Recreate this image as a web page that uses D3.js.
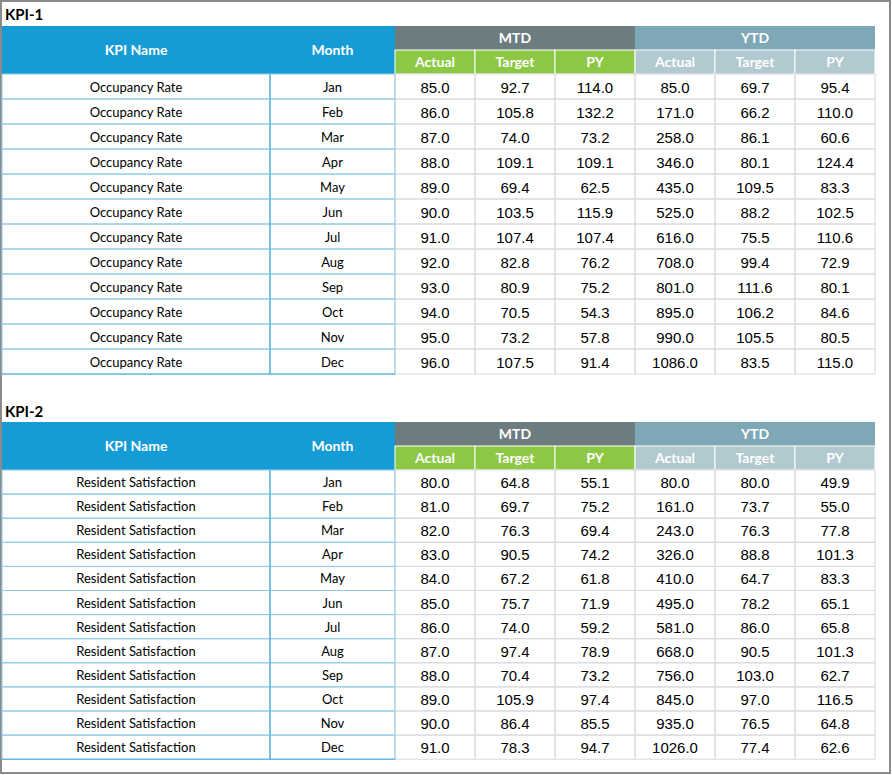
<!DOCTYPE html>
<html><head><meta charset="utf-8">
<script src="https://cdn.jsdelivr.net/npm/d3@7"></script>
<style>body{margin:0;background:#fff}</style>
</head><body>
<script>
const months = ["Jan","Feb","Mar","Apr","May","Jun","Jul","Aug","Sep","Oct","Nov","Dec"];
const kpi1Name = "Occupancy Rate";
const kpi1MtdActual = [85,86,87,88,89,90,91,92,93,94,95,96];
const kpi1MtdTarget = [92.7,105.8,74.0,109.1,69.4,103.5,107.4,82.8,80.9,70.5,73.2,107.5];
const kpi1MtdPY = [114.0,132.2,73.2,109.1,62.5,115.9,107.4,76.2,75.2,54.3,57.8,91.4];
const kpi1YtdActual = [85,171,258,346,435,525,616,708,801,895,990,1086];
const kpi1YtdTarget = [69.7,66.2,86.1,80.1,109.5,88.2,75.5,99.4,111.6,106.2,105.5,83.5];
const kpi1YtdPY = [95.4,110.0,60.6,124.4,83.3,102.5,110.6,72.9,80.1,84.6,80.5,115.0];
const kpi2Name = "Resident Satisfaction";
const kpi2MtdActual = [80,81,82,83,84,85,86,87,88,89,90,91];
const kpi2MtdTarget = [64.8,69.7,76.3,90.5,67.2,75.7,74.0,97.4,70.4,105.9,86.4,78.3];
const kpi2MtdPY = [55.1,75.2,69.4,74.2,61.8,71.9,59.2,78.9,73.2,97.4,85.5,94.7];
const kpi2YtdActual = [80,161,243,326,410,495,581,668,756,845,935,1026];
const kpi2YtdTarget = [80.0,73.7,76.3,88.8,64.7,78.2,86.0,90.5,103.0,97.0,76.5,77.4];
const kpi2YtdPY = [49.9,55.0,77.8,101.3,83.3,65.1,65.8,101.3,62.7,116.5,64.8,62.6];
const subHeaders = ["Actual","Target","PY"];

const svg = d3.select("body").append("svg").attr("width", 892).attr("height", 775);
svg.append("rect").attr("x",1).attr("y",1).attr("width",889).attr("height",772)
  .attr("fill","#fff").attr("stroke","#8a8a8a").attr("stroke-width",2);

// column edges
const colX = [2,270,395,475,555,635,715,795,875];
const numFont = "Liberation Sans, Arial, sans-serif";
const txtFont = "Lato, Noto Sans, sans-serif";

function drawTable(title, titleY, top, rowH, name, cols) {
  svg.append("text").attr("x",5).attr("y",titleY).attr("font-family",txtFont)
    .attr("font-weight","bold").attr("font-size",15).attr("fill","#000").text(title);
  const h1 = 24, h2 = 24;
  // KPI Name / Month header
  svg.append("rect").attr("x",colX[0]).attr("y",top).attr("width",colX[2]-colX[0])
    .attr("height",h1+h2).attr("fill","#159bd5");
  [["KPI Name",(colX[0]+colX[1])/2],["Month",(colX[1]+colX[2])/2]].forEach(([t,x]) => {
    svg.append("text").attr("x",x).attr("y",top+h1+5).attr("text-anchor","middle")
      .attr("font-family",txtFont).attr("font-weight","bold").attr("font-size",14)
      .attr("fill","#fff").text(t);
  });
  // group headers
  [["MTD",colX[2],colX[5],"#6c7c7f","#8cc843"],["YTD",colX[5],colX[8],"#7ea8b5","#b2c9d0"]]
    .forEach(([t,x0,x1,c1,c2],g) => {
      svg.append("rect").attr("x",x0).attr("y",top).attr("width",x1-x0).attr("height",h1)
        .attr("fill",c1);
      svg.append("text").attr("x",(x0+x1)/2).attr("y",top+17).attr("text-anchor","middle")
        .attr("font-family",txtFont).attr("font-weight","bold").attr("font-size",14)
        .attr("fill","#fff").text(t);
      subHeaders.forEach((s,i) => {
        const xa = colX[2+g*3+i], xb = colX[3+g*3+i];
        svg.append("rect").attr("x",xa).attr("y",top+h1).attr("width",xb-xa).attr("height",h2)
          .attr("fill",c2).attr("stroke","#fff").attr("stroke-width",1);
        svg.append("text").attr("x",(xa+xb)/2).attr("y",top+h1+17).attr("text-anchor","middle")
          .attr("font-family",txtFont).attr("font-weight","bold").attr("font-size",14)
          .attr("fill","#fff").text(s);
      });
    });
  const y = d3.scaleBand().domain(months).range([top+h1+h2, top+h1+h2+rowH*12]);
  const g = svg.append("g");
  months.forEach((m,i) => {
    const yy = y(m), bh = y.bandwidth();
    // numeric cells grid
    for (let c = 2; c < 8; c++) {
      g.append("rect").attr("x",colX[c]).attr("y",yy).attr("width",colX[c+1]-colX[c])
        .attr("height",bh).attr("fill","none").attr("stroke","#d9d9d9").attr("stroke-width",1);
    }
    for (let c = 0; c < 2; c++) {
      g.append("rect").attr("x",colX[c]).attr("y",yy).attr("width",colX[c+1]-colX[c])
        .attr("height",bh).attr("fill","none").attr("stroke","#8fcbe6").attr("stroke-width",1);
    }
    g.append("text").attr("x",(colX[0]+colX[1])/2).attr("y",yy+bh/2+5).attr("text-anchor","middle")
      .attr("font-family",txtFont).attr("font-size",13).attr("fill","#000").text(name);
    g.append("text").attr("x",(colX[1]+colX[2])/2).attr("y",yy+bh/2+5).attr("text-anchor","middle")
      .attr("font-family",txtFont).attr("font-size",13).attr("fill","#000").text(m);
    cols.forEach((arr,c) => {
      g.append("text").attr("x",(colX[c+2]+colX[c+3])/2).attr("y",yy+bh/2+6)
        .attr("text-anchor","middle").attr("font-family",numFont).attr("font-size",15)
        .attr("fill","#000").text(arr[i].toFixed(1));
    });
  });
  // left border lines of the name column block
  g.append("line").attr("x1",colX[1]).attr("x2",colX[1]).attr("y1",y.range()[0]).attr("y2",y.range()[1])
    .attr("stroke","#4aa8d4").attr("stroke-width",1);
  g.append("line").attr("x1",colX[0]).attr("x2",colX[2]).attr("y1",y.range()[1]).attr("y2",y.range()[1])
    .attr("stroke","#4aa8d4").attr("stroke-width",1);
}

drawTable("KPI-1", 20, 26, 25, kpi1Name,
  [kpi1MtdActual,kpi1MtdTarget,kpi1MtdPY,kpi1YtdActual,kpi1YtdTarget,kpi1YtdPY]);
drawTable("KPI-2", 417, 422, 24.1, kpi2Name,
  [kpi2MtdActual,kpi2MtdTarget,kpi2MtdPY,kpi2YtdActual,kpi2YtdTarget,kpi2YtdPY]);
</script>
</body></html>
